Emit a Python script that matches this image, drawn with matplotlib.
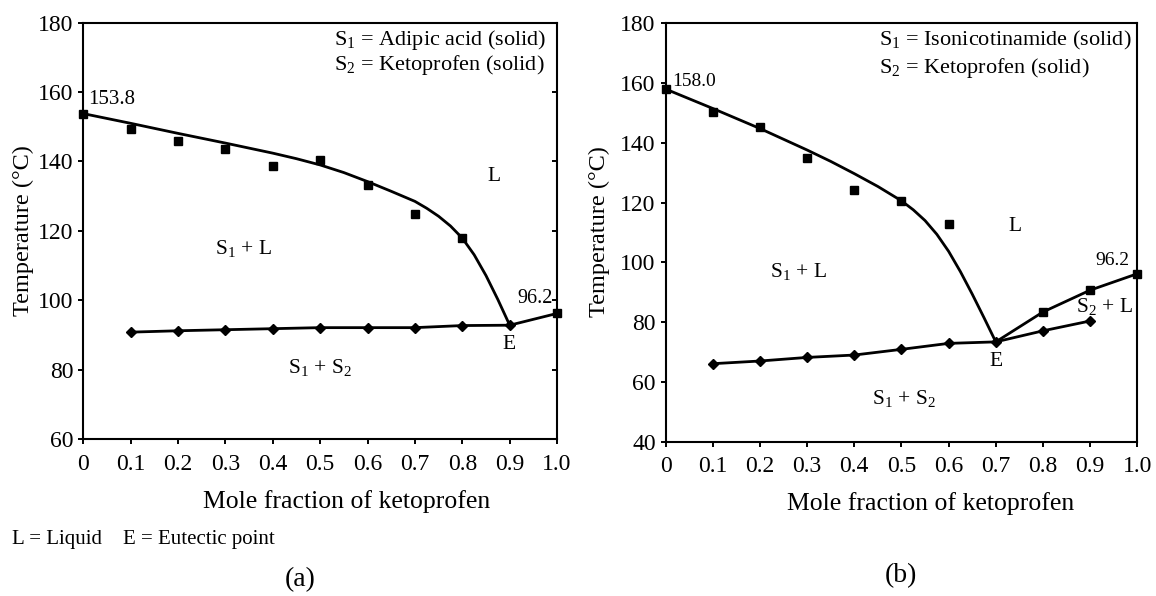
import matplotlib

matplotlib.use("Agg")
import matplotlib.pyplot as plt  # noqa: E402

plt.rcParams["font.family"] = ["Liberation Serif", "DejaVu Serif"]
plt.rcParams["mathtext.fontset"] = "custom"
plt.rcParams["mathtext.rm"] = "Liberation Serif"
plt.rcParams["mathtext.it"] = "Liberation Serif:italic"

# ---- data: (a) adipic acid + ketoprofen ----
xa_liq = [0, 0.1, 0.2, 0.3, 0.4, 0.5, 0.6, 0.7, 0.8]
ta_liq = [153.8, 149.3, 145.8, 143.7, 138.8, 140.5, 133.3, 124.8, 117.9]
xa_sol = [0.1, 0.2, 0.3, 0.4, 0.5, 0.6, 0.7, 0.8, 0.9]
ta_sol = [90.8, 91.2, 91.5, 91.8, 92.1, 92.1, 92.1, 92.7, 92.8]
xa_s2 = [0.9, 1.0]
ta_s2 = [92.8, 96.2]
# fitted liquidus curve
xa_fit = [0, 0.1, 0.2, 0.3, 0.4, 0.45, 0.5, 0.55, 0.6, 0.65, 0.7,
          0.725, 0.75, 0.775, 0.8, 0.825, 0.85, 0.875, 0.9]
ta_fit = [153.8, 151.0, 148.1, 145.3, 142.4, 140.8, 139.0, 136.8, 134.2, 131.4, 128.5,
          126.5, 124.2, 121.4, 117.9, 113.1, 107.1, 100.2, 92.8]

# ---- data: (b) isonicotinamide + ketoprofen ----
xb_liq = [0, 0.1, 0.2, 0.3, 0.4, 0.5, 0.6]
tb_liq = [158.0, 150.3, 145.4, 135.0, 124.2, 120.7, 112.8]
xb_sol = [0.1, 0.2, 0.3, 0.4, 0.5, 0.6, 0.7, 0.8, 0.9]
tb_sol = [66.1, 67.0, 68.2, 69.0, 70.9, 72.9, 73.4, 77.1, 80.4]
xb_s2 = [0.7, 0.8, 0.9, 1.0]
tb_s2 = [73.4, 83.4, 90.7, 96.2]
xb_fit = [0, 0.1, 0.2, 0.3, 0.35, 0.4, 0.45, 0.5, 0.525, 0.55, 0.575,
          0.6, 0.625, 0.65, 0.675, 0.7]
tb_fit = [158.0, 151.5, 144.8, 137.6, 133.8, 129.7, 125.4, 120.6, 117.6, 114.0, 109.4,
          103.7, 96.9, 89.4, 81.5, 73.4]

xticks = [0, 0.1, 0.2, 0.3, 0.4, 0.5, 0.6, 0.7, 0.8, 0.9, 1.0]
xticklabels = ["0", "0.1", "0.2", "0.3", "0.4", "0.5", "0.6", "0.7", "0.8", "0.9", "1.0"]

W, H = 1156, 596
fig = plt.figure(figsize=(W / 100, H / 100), dpi=100)


def box(left, top, right, bottom):
    return [left / W, 1 - bottom / H, (right - left) / W, (bottom - top) / H]


ax_a = fig.add_axes(box(83.2, 22.7, 557.1, 439.0))
ax_b = fig.add_axes(box(665.6, 23.3, 1137.3, 441.7))

LW = 2.0
MS_SQ = 6.0
MS_DI = 5.5
for ax, ylim in ((ax_a, (60, 180)), (ax_b, (40, 180))):
    ax.set_xlim(0, 1.0)
    ax.set_ylim(*ylim)
    ax.set_xticks(xticks)
    ax.set_xticklabels(xticklabels)
    ax.set_yticks(range(ylim[0], 181, 20))
    ax.tick_params(axis="both", labelsize=17, direction="out", length=3.6, width=1.4)
    ax.tick_params(axis="x", pad=7)
    ax.tick_params(axis="y", pad=3.5)
    for s in ax.spines.values():
        s.set_linewidth(1.5)

# panel (a) also has inward ticks on the right spine
ax_r = ax_a.twinx()
ax_r.set_ylim(60, 180)
ax_r.set_yticks(range(60, 181, 20))
ax_r.tick_params(axis="y", direction="in", length=3.6, width=1.4, labelright=False)
for s in ax_r.spines.values():
    s.set_visible(False)

# ---- panel (a) ----
ax_a.plot(xa_fit, ta_fit, "-", color="black", lw=LW, solid_joinstyle="round")
ax_a.plot(xa_liq, ta_liq, "s", color="black", ms=MS_SQ, ls="none", clip_on=False)
ax_a.plot(xa_sol, ta_sol, "-D", color="black", lw=LW, ms=MS_DI)
ax_a.plot(xa_s2, ta_s2, "-", color="black", lw=LW)
ax_a.plot(xa_s2[-1:], ta_s2[-1:], "s", color="black", ms=MS_SQ, clip_on=False)

ax_a.text(0.529, 175, "S$_1$ = Adipic acid (solid)", fontsize=16, ha="left", va="center")
ax_a.text(0.529, 167.8, "S$_2$ = Ketoprofen (solid)", fontsize=16, ha="left", va="center")
ax_a.text(0.01, 158, "153.8", fontsize=15, ha="left", va="center")
ax_a.text(0.866, 135.6, "L", fontsize=15.5, ha="center", va="center")
ax_a.text(0.339, 115, "S$_1$ + L", fontsize=15.5, ha="center", va="center")
ax_a.text(0.99, 100.6, "96.2", fontsize=14.5, ha="right", va="center")
ax_a.text(0.898, 87.2, "E", fontsize=15.5, ha="center", va="center")
ax_a.text(0.499, 80.7, "S$_1$ + S$_2$", fontsize=15.5, ha="center", va="center")

# ---- panel (b) ----
ax_b.plot(xb_fit, tb_fit, "-", color="black", lw=LW, solid_joinstyle="round")
ax_b.plot(xb_liq, tb_liq, "s", color="black", ms=MS_SQ, ls="none", clip_on=False)
ax_b.plot(xb_sol, tb_sol, "-D", color="black", lw=LW, ms=MS_DI)
ax_b.plot(xb_s2, tb_s2, "-", color="black", lw=LW)
ax_b.plot(xb_s2[1:], tb_s2[1:], "s", color="black", ms=MS_SQ, ls="none", clip_on=False)

ax_b.text(0.453, 174.4, "S$_1$ = Isonicotinamide (solid)", fontsize=16, ha="left", va="center")
ax_b.text(0.453, 164.9, "S$_2$ = Ketoprofen (solid)", fontsize=16, ha="left", va="center")
ax_b.text(0.013, 160.4, "158.0", fontsize=14, ha="left", va="center")
ax_b.text(0.741, 111.9, "L", fontsize=15.5, ha="center", va="center")
ax_b.text(0.282, 97.1, "S$_1$ + L", fontsize=15.5, ha="center", va="center")
ax_b.text(0.984, 100.7, "96.2", fontsize=14, ha="right", va="center")
ax_b.text(0.87, 85.1, "S$_2$ + L", fontsize=15.5, ha="left", va="center")
ax_b.text(0.701, 66.7, "E", fontsize=15.5, ha="center", va="center")
ax_b.text(0.505, 54.4, "S$_1$ + S$_2$", fontsize=15.5, ha="center", va="center")


# ---- labels outside the axes (pixel positions) ----
def ft(px, py, s, **kw):
    fig.text(px / W, 1 - py / H, s, **kw)


ft(346.4, 501.7, "Mole fraction of ketoprofen", fontsize=18.5, ha="center", va="center")
ft(930.8, 503.3, "Mole fraction of ketoprofen", fontsize=18.5, ha="center", va="center")
ft(23, 231, "Temperature (°C)", fontsize=17.5, rotation=90, ha="center", va="center")
ft(599, 232, "Temperature (°C)", fontsize=17.5, rotation=90, ha="center", va="center")
ft(12.5, 539.3, "L = Liquid    E = Eutectic point", fontsize=15, ha="left", va="center")
ft(300, 580, "(a)", fontsize=20, ha="center", va="center")
ft(901, 576, "(b)", fontsize=20, ha="center", va="center")

fig.savefig("out.png", dpi=100)
